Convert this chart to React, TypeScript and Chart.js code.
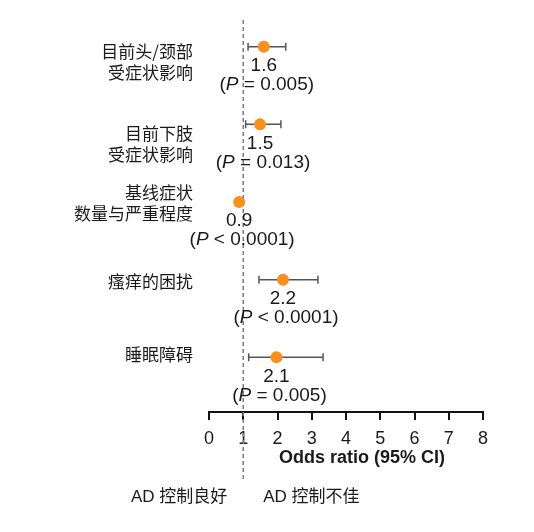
import { useEffect, useRef } from "react";
import { Chart, registerables } from "chart.js";

Chart.register(...registerables);

// Rows, top to bottom
const categories = [
    ["目前头/颈部", "受症状影响"],
    ["目前下肢", "受症状影响"],
    ["基线症状", "数量与严重程度"],
    ["瘙痒的困扰"],
    ["睡眠障碍"],
];
const oddsRatios = [1.6, 1.49, 0.88, 2.16, 1.97];
const ciLower = [1.14, 1.07, 0.85, 1.46, 1.16];
const ciUpper = [2.24, 2.1, 0.91, 3.18, 3.33];
const orLabels = ["1.6", "1.5", "0.9", "2.2", "2.1"];
const pLabels = ["= 0.005", "= 0.013", "< 0.0001", "< 0.0001", "= 0.005"];
const xTicks = [0, 1, 2, 3, 4, 5, 6, 7, 8];
const xTitle = "Odds ratio (95% CI)";
const sideLabels = ["AD 控制良好", "AD 控制不佳"];

const FONT = '"Liberation Sans", "Noto Sans CJK SC", sans-serif';
const CJK = '"Noto Sans CJK SC", "Liberation Sans", sans-serif';
const ORANGE = "#F7901E";
const TEXT = "#1a1a1a";

// vertical nudge of each category label block relative to its dot
const labelShift = [15, 20, 1, 2, -3];

const forestPlugin = {
    id: "forest",
    beforeDatasetsDraw(chart: any) {
        const { ctx, scales } = chart;
        const xs = scales.x;
        const ys = scales.y;
        ctx.save();
        // reference line at OR = 1
        const x1 = xs.getPixelForValue(1);
        ctx.strokeStyle = "#7a7a7a";
        ctx.lineWidth = 1.5;
        ctx.setLineDash([4, 3]);
        ctx.beginPath();
        ctx.moveTo(x1, 20);
        ctx.lineTo(x1, 479);
        ctx.stroke();
        ctx.setLineDash([]);
        // confidence intervals
        ctx.strokeStyle = "#555";
        ctx.lineWidth = 1.5;
        oddsRatios.forEach((_, i) => {
            const y = ys.getPixelForValue(i);
            const a = xs.getPixelForValue(ciLower[i]);
            const b = xs.getPixelForValue(ciUpper[i]);
            ctx.beginPath();
            ctx.moveTo(a, y);
            ctx.lineTo(b, y);
            ctx.moveTo(a, y - 4);
            ctx.lineTo(a, y + 4);
            ctx.moveTo(b, y - 4);
            ctx.lineTo(b, y + 4);
            ctx.stroke();
        });
        ctx.restore();
    },
    afterDraw(chart: any) {
        const { ctx, scales } = chart;
        const xs = scales.x;
        const ys = scales.y;
        ctx.save();
        ctx.fillStyle = TEXT;
        ctx.textBaseline = "middle";

        // category labels
        ctx.font = `17px ${CJK}`;
        ctx.textAlign = "right";
        categories.forEach((lines, i) => {
            const cy = ys.getPixelForValue(i) + labelShift[i];
            const lh = 21;
            const top = cy - ((lines.length - 1) * lh) / 2;
            lines.forEach((t, k) => ctx.fillText(t, 193, top + k * lh));
        });

        // OR and P annotations
        oddsRatios.forEach((v, i) => {
            const px = xs.getPixelForValue(v);
            const py = ys.getPixelForValue(i);
            ctx.textAlign = "center";
            ctx.font = `19px ${FONT}`;
            ctx.fillText(orLabels[i], px, py + 19);

            const parts = [
                { t: "(", f: `19px ${FONT}` },
                { t: "P", f: `italic 19px ${FONT}` },
                { t: " " + pLabels[i] + ")", f: `19px ${FONT}` },
            ];
            let w = 0;
            parts.forEach((p) => {
                ctx.font = p.f;
                w += ctx.measureText(p.t).width;
            });
            let x = px + 3 - w / 2;
            ctx.textAlign = "left";
            parts.forEach((p) => {
                ctx.font = p.f;
                ctx.fillText(p.t, x, py + 38);
                x += ctx.measureText(p.t).width;
            });
        });

        // axis title
        ctx.font = `bold 18px ${FONT}`;
        ctx.textAlign = "center";
        ctx.fillText(xTitle, 362, 458);

        // direction labels
        const x1 = xs.getPixelForValue(1);
        ctx.font = `17px ${FONT}`;
        ctx.textAlign = "right";
        ctx.fillText(sideLabels[0], x1 - 16, 497);
        ctx.textAlign = "left";
        ctx.fillText(sideLabels[1], x1 + 20, 497);
        ctx.restore();
    },
};

export default function App() {
    const canvasRef = useRef<HTMLCanvasElement | null>(null);

    useEffect(() => {
        if (!canvasRef.current) return;
        const ctx = canvasRef.current.getContext("2d");
        if (!ctx) return;
        const chart = new Chart(ctx, {
            type: "scatter",
            data: {
                datasets: [
                    {
                        data: oddsRatios.map((v, i) => ({ x: v, y: i })),
                        backgroundColor: ORANGE,
                        borderWidth: 0,
                        pointRadius: 6,
                        pointHoverRadius: 6,
                    },
                ],
            },
            options: {
                responsive: false,
                animation: false,
                devicePixelRatio: 1,
                layout: { padding: { left: 209, right: 51, top: 20, bottom: 60 } },
                plugins: { legend: { display: false }, tooltip: { enabled: false } },
                scales: {
                    x: {
                        type: "linear",
                        min: xTicks[0],
                        max: xTicks[xTicks.length - 1],
                        afterBuildTicks: (s: any) => {
                            s.ticks = xTicks.map((v) => ({ value: v }));
                        },
                        afterFit: (s: any) => {
                            s.height = 60;
                        },
                        ticks: {
                            color: TEXT,
                            font: { size: 18, family: FONT },
                            padding: 8,
                            maxRotation: 0,
                        },
                        grid: {
                            drawOnChartArea: false,
                            drawTicks: true,
                            tickLength: 8,
                            color: "#111",
                            lineWidth: 2,
                        },
                        border: { display: true, color: "#111", width: 2 },
                    },
                    y: {
                        type: "linear",
                        display: false,
                        reverse: true,
                        min: -0.344,
                        max: 4.704,
                    },
                },
            },
            plugins: [forestPlugin],
        });
        return () => chart.destroy();
    }, []);

    return (
        <div style={{ position: "absolute", left: 0, top: 0, width: 534, height: 532, background: "#fff" }}>
            <canvas ref={canvasRef} width={534} height={532} style={{ display: "block" }} />
        </div>
    );
}
